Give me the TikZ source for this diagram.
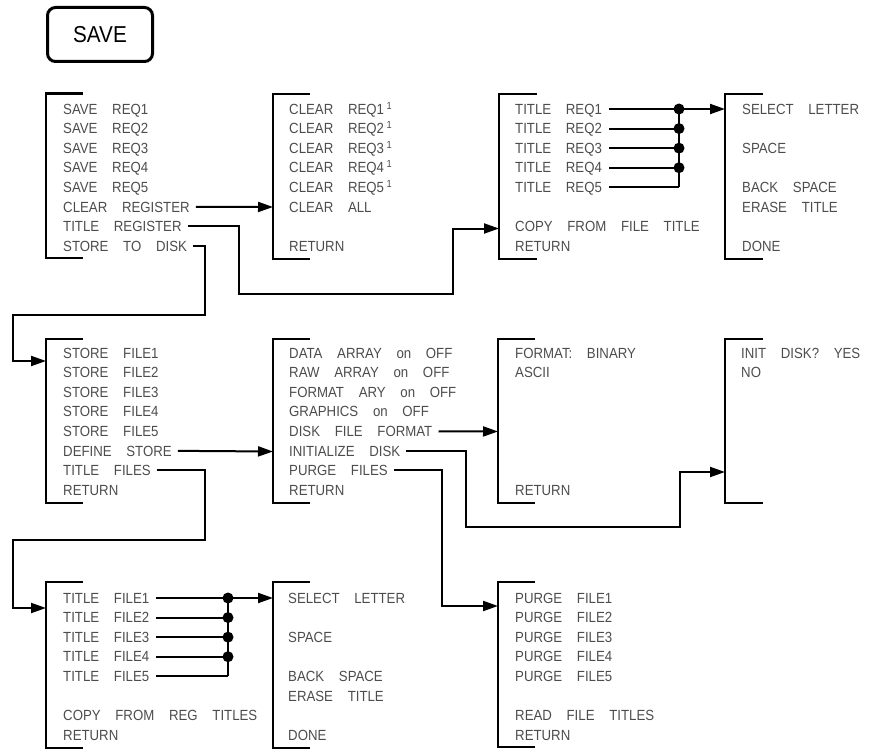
\documentclass[tikz,border=0pt]{standalone}
\usepackage{fontspec}
\setmainfont[FakeStretch=0.9,WordSpace=4]{Liberation Sans}
\usetikzlibrary{arrows.meta}
\newcommand\itfont{\fontsize{14.7}{17}\selectfont}
\newcommand\mybrk[4]{\draw[brk] (#2,#3) -- (#1,#3) -- (#1,#4) -- (#2,#4);}
\tikzset{
 itm/.style={anchor=west,inner sep=0pt,text height=10.5pt,text depth=0pt,font=\itfont,text=black!70},
 brk/.style={line width=2.4pt,line join=miter},
 conn/.style={line width=2pt},
 arr/.style={conn,-{Triangle[length=15pt,width=10pt]}},
 dot/.style={circle,fill=black,inner sep=0pt,minimum size=11pt},
}
\begin{document}
\begin{tikzpicture}[x=1pt,y=-1pt]
\useasboundingbox (0,0) rectangle (869,749);
% SAVE key
\node[draw,line width=3pt,rounded corners=8pt,minimum width=105pt,minimum height=54pt,inner sep=0pt,font=\fontsize{23}{26}\selectfont] (save) at (100,34.5) {SAVE};

% brackets
\mybrk{46}{83}{93.5}{258}
\mybrk{273}{310}{94}{259}
\mybrk{499}{537}{94}{259}
\mybrk{725}{763}{94}{259}
\mybrk{46}{83}{339}{503}
\mybrk{273}{310}{339}{503}
\mybrk{498}{535}{339}{503}
\mybrk{725}{763}{339}{503}
\mybrk{46}{83}{582}{748}
\mybrk{273}{310}{582}{748}
\mybrk{498}{535}{582}{747}

% menu 1
\foreach \t [count=\i from 0] in {SAVE REQ1,SAVE REQ2,SAVE REQ3,SAVE REQ4,SAVE REQ5,CLEAR REGISTER,TITLE REGISTER,STORE TO DISK}
  \node[itm] (m1r\i) at (63,109+\i*19.57) {\t};
% menu 2
\foreach \t [count=\i from 0] in {CLEAR REQ1,CLEAR REQ2,CLEAR REQ3,CLEAR REQ4,CLEAR REQ5}
  \node[itm] (m2r\i) at (289,109+\i*19.57) {\t\,\textsuperscript{1}};
\node[itm] (m2r5) at (289,109+5*19.57) {CLEAR ALL};
\node[itm] (m2r7) at (289,109+7*19.57) {RETURN};
% menu 3
\foreach \t [count=\i from 0] in {TITLE REQ1,TITLE REQ2,TITLE REQ3,TITLE REQ4,TITLE REQ5}
  \node[itm] (m3r\i) at (515,109+\i*19.57) {\t};
\node[itm] (m3r6) at (515,109+6*19.57) {COPY FROM FILE TITLE};
\node[itm] (m3r7) at (515,109+7*19.57) {RETURN};
% menu 10
\node[itm] (m10r0) at (742,109) {SELECT LETTER};
\node[itm] (m10r2) at (742,109+2*19.57) {SPACE};
\node[itm] (m10r4) at (742,109+4*19.57) {BACK SPACE};
\node[itm] (m10r5) at (742,109+5*19.57) {ERASE TITLE};
\node[itm] (m10r7) at (742,109+7*19.57) {DONE};
% menu 4
\foreach \t [count=\i from 0] in {STORE FILE1,STORE FILE2,STORE FILE3,STORE FILE4,STORE FILE5,DEFINE STORE,TITLE FILES,RETURN}
  \node[itm] (m4r\i) at (63,353+\i*19.57) {\t};
% menu 5
\foreach \t [count=\i from 0] in {DATA ARRAY on OFF,RAW ARRAY on OFF,FORMAT ARY on OFF,GRAPHICS on OFF,DISK FILE FORMAT,INITIALIZE DISK,PURGE FILES,RETURN}
  \node[itm] (m5r\i) at (289,353+\i*19.57) {\t};
% menu 6
\node[itm] (m6r0) at (515,353) {FORMAT: BINARY};
\node[itm] (m6r1) at (515,353+19.57) {ASCII};
\node[itm] (m6r7) at (515,353+7*19.57) {RETURN};
% menu 9
\node[itm] (m9r0) at (741,353) {INIT DISK? YES};
\node[itm] (m9r1) at (741,353+19.57) {NO};
% menu 7
\foreach \t [count=\i from 0] in {TITLE FILE1,TITLE FILE2,TITLE FILE3,TITLE FILE4,TITLE FILE5}
  \node[itm] (m7r\i) at (63,598+\i*19.57) {\t};
\node[itm] (m7r6) at (63,598+6*19.57) {COPY FROM REG TITLES};
\node[itm] (m7r7) at (63,598+7*19.57) {RETURN};
% menu 11
\node[itm] (m11r0) at (288,598) {SELECT LETTER};
\node[itm] (m11r2) at (288,598+2*19.57) {SPACE};
\node[itm] (m11r4) at (288,598+4*19.57) {BACK SPACE};
\node[itm] (m11r5) at (288,598+5*19.57) {ERASE TITLE};
\node[itm] (m11r7) at (288,598+7*19.57) {DONE};
% menu 8
\foreach \t [count=\i from 0] in {PURGE FILE1,PURGE FILE2,PURGE FILE3,PURGE FILE4,PURGE FILE5}
  \node[itm] (m8r\i) at (515,598+\i*19.57) {\t};
\node[itm] (m8r6) at (515,598+6*19.57) {READ FILE TITLES};
\node[itm] (m8r7) at (515,598+7*19.57) {RETURN};

% connector coordinates
\coordinate (in2) at (273,207);
\coordinate (in3) at (499,228.5);
\coordinate (in4) at (46,361);
\coordinate (in5) at (273,451.5);
\coordinate (in6) at (498,431.5);
\coordinate (in9) at (725,472);
\coordinate (in7) at (46,608);
\coordinate (in8) at (498,606);
\coordinate (in10) at (725,109);
\coordinate (in11) at (273,598);
\coordinate (ja) at (239,294);
\coordinate (jb) at (453,294);
\coordinate (jc) at (205,315);
\coordinate (jd) at (13,315);
\coordinate (je) at (205,540);
\coordinate (jf) at (13,540);
\coordinate (jg) at (466,527);
\coordinate (jh) at (680,527);
\coordinate (ji) at (442,606);
\coordinate (bus3) at (679,109);
\coordinate (bus7) at (228,598);

% connectors
\draw[arr] ([xshift=6pt]m1r5.east) -- (in2);
\draw[arr] ([xshift=6pt]m1r6.east) -| (ja) -- (jb) |- (in3);
\draw[arr] ([xshift=6pt]m1r7.east) -| (jc) -- (jd) |- (in4);
\draw[arr] ([xshift=6pt]m4r5.east) -- (in5);
\draw[arr] ([xshift=6pt]m4r6.east) -| (je) -- (jf) |- (in7);
\draw[arr] ([xshift=6pt]m5r4.east) -- (in6);
\draw[arr] ([xshift=6pt]m5r5.east) -| (jg) -- (jh) |- (in9);
\draw[arr] ([xshift=6pt]m5r6.east) -| (ji) -- (in8);

% title register bus
\foreach \i in {0,...,4}
  \draw[conn] ([xshift=7pt]m3r\i.east) -- (bus3 |- m3r\i.east);
\draw[conn] (bus3) -- (bus3 |- m3r4.east);
\foreach \i in {0,...,3}
  \node[dot] (d3\i) at (bus3 |- m3r\i.east) {};
\draw[arr] (d30.center) -- (in10);

% title file bus
\foreach \i in {0,...,4}
  \draw[conn] ([xshift=7pt]m7r\i.east) -- (bus7 |- m7r\i.east);
\draw[conn] (bus7) -- (bus7 |- m7r4.east);
\foreach \i in {0,...,3}
  \node[dot] (d7\i) at (bus7 |- m7r\i.east) {};
\draw[arr] (d70.center) -- (in11);
\end{tikzpicture}
\end{document}
